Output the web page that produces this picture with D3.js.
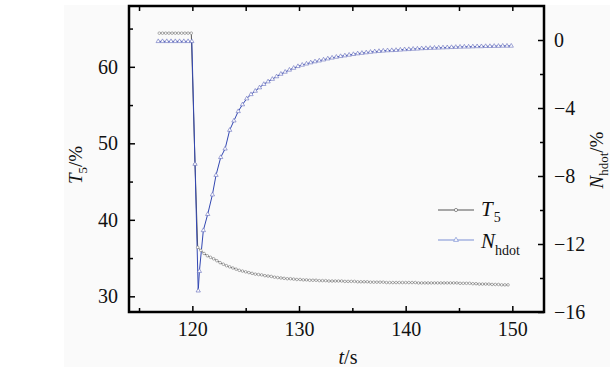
<!DOCTYPE html>
<html>
<head>
<meta charset="utf-8">
<script src="https://cdn.jsdelivr.net/npm/d3@7"></script>
<style>
  body { margin: 0; background: #fff; }
  svg text { font-family: "Liberation Serif", "DejaVu Serif", serif; fill: #111; }
</style>
</head>
<body>
<script>
// T5 (left axis, %) : [t, value]
var t5Data = [
  [116.9,64.4],[117.2,64.4],[117.5,64.4],[117.8,64.4],[118.1,64.4],[118.4,64.4],
  [118.7,64.4],[119.0,64.4],[119.3,64.4],[119.6,64.4],[119.9,64.4],
  [120.25,47.3],[120.5,36.4],[120.8,36.0],[121.1,35.6],[121.4,35.3],[121.7,35.1],
  [122.0,34.9],[122.3,34.65],[122.6,34.4],[122.9,34.2],[123.2,34.0],[123.5,33.85],
  [123.8,33.7],[124.1,33.55],[124.4,33.4],[124.7,33.3],[125.0,33.2],[125.3,33.1],
  [125.6,33.0],[125.9,32.9],[126.2,32.85],[126.5,32.8],[126.8,32.7],[127.1,32.65],
  [127.4,32.6],[127.7,32.5],[128.0,32.45],[128.3,32.4],[128.6,32.35],[128.9,32.3],
  [129.2,32.3],[129.5,32.25],[129.8,32.2],[130.1,32.2],[130.4,32.15],[130.7,32.15],
  [131.0,32.1],[131.3,32.1],[131.6,32.1],[131.9,32.05],[132.2,32.05],[132.5,32.05],
  [132.8,32.0],[133.1,32.0],[133.4,32.0],[133.7,32.0],[134.0,32.0],[134.3,31.95],
  [134.6,31.95],[134.9,31.95],[135.2,31.95],[135.5,31.9],[135.8,31.9],[136.1,31.9],
  [136.4,31.9],[136.7,31.85],[137.0,31.85],[137.3,31.85],[137.6,31.85],[137.9,31.85],
  [138.2,31.8],[138.5,31.8],[138.8,31.8],[139.1,31.8],[139.4,31.8],[139.7,31.8],
  [140.0,31.8],[140.3,31.8],[140.6,31.8],[140.9,31.8],[141.2,31.75],[141.5,31.75],
  [141.8,31.75],[142.1,31.75],[142.4,31.75],[142.7,31.75],[143.0,31.75],[143.3,31.75],
  [143.6,31.75],[143.9,31.75],[144.2,31.75],[144.5,31.75],[144.8,31.75],[145.1,31.7],
  [145.4,31.7],[145.7,31.7],[146.0,31.7],[146.3,31.65],[146.6,31.65],[146.9,31.6],
  [147.2,31.6],[147.5,31.6],[147.8,31.6],[148.1,31.55],[148.4,31.55],[148.7,31.55],
  [149.0,31.5],[149.3,31.5],[149.6,31.5]
];

// Nhdot (right axis, %) : [t, value]
var nhData = [
  [116.8,-0.08],[117.2,-0.08],[117.6,-0.08],[118.0,-0.08],[118.4,-0.08],[118.8,-0.08],
  [119.2,-0.08],[119.6,-0.08],[119.95,-0.08],
  [120.25,-7.3],[120.55,-14.75],[120.66,-13.6],[121.03,-11.2],[121.44,-10.25],
  [121.88,-9.1],[122.22,-7.95],[122.66,-6.9],[123.07,-6.4],[123.5,-5.3],
  [123.9,-4.75],[124.3,-4.2],[124.7,-3.8],[125.1,-3.45],[125.5,-3.2],[125.9,-3.0],
  [126.3,-2.8],[126.7,-2.6],[127.1,-2.45],[127.5,-2.3],[127.9,-2.15],[128.3,-2.0],
  [128.7,-1.88],[129.1,-1.76],[129.5,-1.65],[129.9,-1.55],[130.3,-1.47],[130.7,-1.4],
  [131.1,-1.33],[131.5,-1.27],[131.9,-1.22],[132.3,-1.16],[132.7,-1.1],[133.1,-1.05],
  [133.5,-1.0],[133.9,-0.96],[134.3,-0.92],[134.7,-0.88],[135.1,-0.84],[135.5,-0.8],
  [135.9,-0.77],[136.3,-0.74],[136.7,-0.71],[137.1,-0.68],[137.5,-0.66],[137.9,-0.64],
  [138.3,-0.62],[138.7,-0.61],[139.1,-0.6],[139.5,-0.58],[139.9,-0.56],[140.3,-0.55],
  [140.7,-0.53],[141.1,-0.52],[141.5,-0.5],[141.9,-0.49],[142.3,-0.48],[142.7,-0.47],
  [143.1,-0.46],[143.5,-0.45],[143.9,-0.44],[144.3,-0.43],[144.7,-0.42],[145.1,-0.41],
  [145.5,-0.4],[145.9,-0.4],[146.3,-0.39],[146.7,-0.38],[147.1,-0.38],[147.5,-0.37],
  [147.9,-0.37],[148.3,-0.36],[148.7,-0.36],[149.1,-0.35],[149.5,-0.35],[149.9,-0.35]
];

var xTicks = [120, 130, 140, 150];
var xMinor = [115, 125, 135, 145];
var yLeftTicks = [30, 40, 50, 60];
var yLeftMinor = [35, 45, 55, 65];
var yRightTicks = [0, -4, -8, -12, -16];
var yRightMinor = [-2, -6, -10, -14];

var W = 616, H = 375;
var box = {left: 129, right: 544, top: 6, bottom: 312};
var SERIF = '"Liberation Serif", "DejaVu Serif", serif';

var svg = d3.select('body').append('svg')
    .attr('width', W)
    .attr('height', H)
    .attr('font-family', SERIF);

svg.append('rect')
    .attr('x', 64).attr('y', 5)
    .attr('width', 546).attr('height', 362)
    .attr('fill', '#fafafa');

var x = d3.scaleLinear().domain([114.06, 152.97]).range([box.left, box.right]);
var yL = d3.scaleLinear().domain([27.95, 67.95]).range([box.bottom, box.top]);
var yR = d3.scaleLinear().domain([-16, 2]).range([box.bottom, box.top]);

// axes (ticks inward)
function styleAxis(g) {
    g.attr('font-family', SERIF);
    g.select('.domain').remove();
    g.selectAll('.tick line').attr('stroke', '#000').attr('stroke-width', 1.5);
    g.selectAll('.tick text').attr('font-size', 20).attr('fill', '#111')
        .attr('font-family', SERIF);
}
var fmt = function(d) { return d < 0 ? '\u2212' + Math.abs(d) : String(d); };

svg.append('g').attr('transform', 'translate(0,' + box.bottom + ')')
    .call(d3.axisBottom(x).tickValues(xTicks).tickSizeInner(-6).tickPadding(10))
    .call(styleAxis);
svg.append('g').attr('transform', 'translate(0,' + box.bottom + ')')
    .call(d3.axisBottom(x).tickValues(xMinor).tickSizeInner(-4).tickFormat(''))
    .call(styleAxis);
svg.append('g').attr('transform', 'translate(0,' + box.top + ')')
    .call(d3.axisTop(x).tickValues(xTicks.concat(xMinor)).tickSizeInner(-5).tickFormat(''))
    .call(styleAxis);

svg.append('g').attr('transform', 'translate(' + box.left + ',0)')
    .call(d3.axisLeft(yL).tickValues(yLeftTicks).tickSizeInner(-6).tickPadding(11))
    .call(styleAxis);
svg.append('g').attr('transform', 'translate(' + box.left + ',0)')
    .call(d3.axisLeft(yL).tickValues(yLeftMinor).tickSizeInner(-4).tickFormat(''))
    .call(styleAxis);

svg.append('g').attr('transform', 'translate(' + box.right + ',0)')
    .call(d3.axisRight(yR).tickValues(yRightTicks).tickSizeInner(-6).tickPadding(10).tickFormat(fmt))
    .call(styleAxis);
svg.append('g').attr('transform', 'translate(' + box.right + ',0)')
    .call(d3.axisRight(yR).tickValues(yRightMinor).tickSizeInner(-4).tickFormat(''))
    .call(styleAxis);

// frame
svg.append('rect')
    .attr('x', box.left).attr('y', box.top)
    .attr('width', box.right - box.left).attr('height', box.bottom - box.top)
    .attr('fill', 'none').attr('stroke', '#000').attr('stroke-width', 2.5);

// series
var lineT5 = d3.line().x(function(d){return x(d[0]);}).y(function(d){return yL(d[1]);});
var lineNh = d3.line().x(function(d){return x(d[0]);}).y(function(d){return yR(d[1]);});

svg.append('path').datum(t5Data).attr('d', lineT5)
    .attr('fill', 'none').attr('stroke', '#444').attr('stroke-width', 0.9);
svg.append('path').datum(nhData).attr('d', lineNh)
    .attr('fill', 'none').attr('stroke', '#3247b2').attr('stroke-width', 1);

svg.append('g').selectAll('circle').data(t5Data).enter().append('circle')
    .attr('cx', function(d){return x(d[0]);})
    .attr('cy', function(d){return yL(d[1]);})
    .attr('r', 1.3)
    .attr('fill', '#fff').attr('stroke', '#777').attr('stroke-width', 0.6);

var tri = d3.symbol().type(d3.symbolTriangle).size(8);
svg.append('g').selectAll('path').data(nhData).enter().append('path')
    .attr('d', tri)
    .attr('transform', function(d){return 'translate(' + x(d[0]) + ',' + yR(d[1]) + ')';})
    .attr('fill', '#fff').attr('stroke', '#6068bb').attr('stroke-width', 0.6);

// legend
var lg = svg.append('g');
lg.append('line').attr('x1', 438).attr('x2', 474).attr('y1', 210).attr('y2', 210)
    .attr('stroke', '#555').attr('stroke-width', 1);
lg.append('circle').attr('cx', 456).attr('cy', 210).attr('r', 1.6)
    .attr('fill', '#fff').attr('stroke', '#666').attr('stroke-width', 0.7);
var t1 = lg.append('text').attr('x', 481).attr('y', 216).attr('font-size', 21);
t1.append('tspan').attr('font-style', 'italic').text('T');
t1.append('tspan').attr('font-size', 14).attr('dx', 1).attr('dy', 6).text('5');

lg.append('line').attr('x1', 438).attr('x2', 474).attr('y1', 240).attr('y2', 240)
    .attr('stroke', '#7b8fd4').attr('stroke-width', 1);
lg.append('path').attr('d', d3.symbol().type(d3.symbolTriangle).size(10))
    .attr('transform', 'translate(456,240)')
    .attr('fill', '#fff').attr('stroke', '#7b8fd4').attr('stroke-width', 0.7);
var t2 = lg.append('text').attr('x', 481).attr('y', 248).attr('font-size', 21);
t2.append('tspan').attr('font-style', 'italic').text('N');
t2.append('tspan').attr('font-size', 14).attr('dy', 7).text('hdot');

// axis titles
var xl = svg.append('text').attr('x', 348).attr('y', 364)
    .attr('text-anchor', 'middle').attr('font-size', 20);
xl.append('tspan').attr('font-style', 'italic').text('t');
xl.append('tspan').text('/s');

var yl = svg.append('text')
    .attr('transform', 'translate(82,165) rotate(-90)')
    .attr('text-anchor', 'middle').attr('font-size', 19);
yl.append('tspan').attr('font-style', 'italic').text('T');
yl.append('tspan').attr('font-size', 13).attr('dy', 5).text('5');
yl.append('tspan').attr('dy', -5).text('/%');

var yr = svg.append('text')
    .attr('transform', 'translate(603,160) rotate(-90)')
    .attr('text-anchor', 'middle').attr('font-size', 19);
yr.append('tspan').attr('font-style', 'italic').text('N');
yr.append('tspan').attr('font-size', 13).attr('dy', 5).text('hdot');
yr.append('tspan').attr('dy', -5).text('/%');
</script>
</body>
</html>
